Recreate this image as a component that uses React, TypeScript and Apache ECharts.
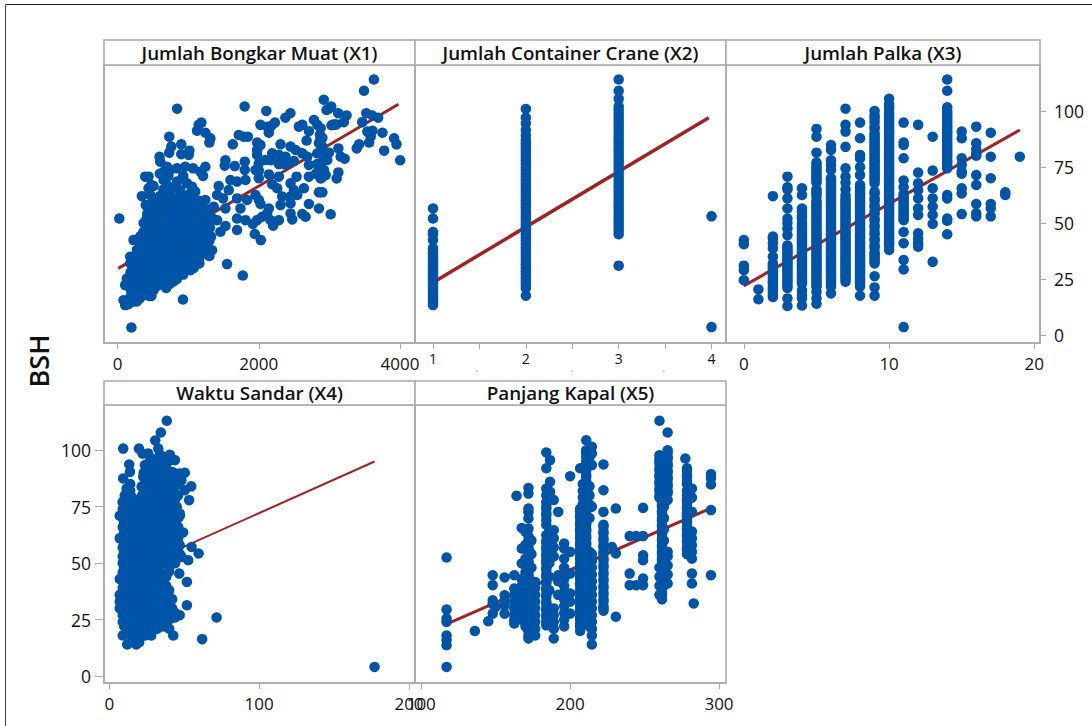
import React, { useEffect, useRef } from "react";
import * as echarts from "echarts";

const panelTitles = [
  "Jumlah Bongkar Muat (X1)",
  "Jumlah Container Crane (X2)",
  "Jumlah Palka (X3)",
  "Waktu Sandar (X4)",
  "Panjang Kapal (X5)",
];

const yTicks = [0, 25, 50, 75, 100];
const x1Ticks = [0, 2000, 4000];
const x2Ticks = [1, 2, 3, 4];
const x2MinorTicks = [1, 1.5, 2, 2.5, 3, 3.5, 4];
const x3Ticks = [0, 10, 20];
const x4Ticks = [0, 100, 200];
const x5Ticks = [100, 200, 300];

const fitX1 = [[12, 29.8], [3978, 103]];
const fitX2 = [[1, 23.5], [3.97, 97]];
const fitX3 = [[0, 22], [19, 91.5]];
const fitX4 = [[7, 44.6], [177, 95]];
const fitX5 = [[117, 23], [295, 74.5]];

const x1Sparse = [
  [197,3.4],[26,52],[844,101],[1800,102],[2107,100],[3630,114],[3490,109],[2920,105],[2993,101],[2960,100.4],[3025,102],
  [3125,99],[3243,98],[2448,99],[2377,97],[3522,99],[3606,98],[3690,97],[3465,95],[3062,94],[3100,94],[3030,93.6],[3204,95],
  [2024,93.8],[2119,93],[2176,93.3],[2228,94.8],[2143,90.3],[2568,93],[2616,93.8],[2710,91],[2781,96],[2829,93.8],[2876,92.3],
  [2866,89.3],[3065,93.8],[3538,90.8],[3609,91.2],[3585,88.5],[3751,90.3],[3562,85.9],[1717,89.3],[1788,88.5],[1845,88.5],
  [1149,93.8],[1187,94.8],[1126,91.2],[1244,90.3],[1315,87.8],[1301,85.9],[733,88.5],[762,84.1],[733,81.4],[903,85.1],[903,80.7],
  [1017,82.3],[1008,80.4],[596,79.6],[605,77.4],[1632,85.1],[1977,85.9],[2024,84.8],[1977,82.6],[2308,85.1],[2450,84.1],[2521,82.6],
  [2677,86.8],[2616,81.1],[2687,79.6],[2852,85.6],[2900,84.1],[2829,81.1],[2994,81.4],[3127,83.3],[3160,79.6],[3216,78.7],[3387,83.3],
  [3420,85.1],[3775,82.3],[3916,87.8],[3950,85.1],[4002,78],[1528,78],[1518,75.6],[1660,75.4],[1802,77.4],[1802,73.7],[1954,73.7],
  [2001,73.4],[1977,80.4],[2001,76.6],[2095,78.1],[2190,81.1],[2285,80.4],[2379,79.6],[2285,76.3],[2403,76.6],[2497,77.7],[2710,75.9],
  [2829,76.3],[2970,78.1],[2923,73.7],[2852,73.7],[2947,71.4],[2876,69.9],[3127,72.6],[3103,69.9],[2710,70.7],[2143,71.7],[2535,70.7],
  [2450,67.7],[2285,70.7],[2190,67.3],[2261,65.5],[2639,65.5],[2497,64.7],[2450,61.8],[2545,62.5],[2852,63.7],[2900,63.7],[2332,61.8],
  [2308,58],[2450,58.8],[2710,58.5],[2852,56.5],[3018,53.9],[2616,54],[2663,52.8],[2450,54.3],[2474,51.6],[2285,51.3],[2143,56.5],
  [2119,54.3],[2048,52.8],[1977,51.3],[1916,49.6],[2204,48.8],[2166,51.3],[1812,51.3],[1693,52],[1741,56.5],[1693,61],[1835,60.3],
  [1954,62.5],[2001,60.3],[2024,58.5],[1812,69.2],[1693,68.5],[1599,69.2],[1575,64.7],[1433,66.5],[1410,62.5],[1495,61],[1362,57.3],
  [1528,56.5],[1693,46.9],[1944,45.1],[2029,42.4],[1551,31.7],[1774,26.6],[927,15.9],[1457,46.1],[1528,48.7],[1410,51.3],[1339,37.9],
  [1301,35.3],[1159,32],[1159,34.2],[2829,72],[2900,70.5],[2380,76],[2170,78],[2000,70],[2900,88],[2870,87],[2880,81],[2920,78],[2880,75],[2810,72],
];

const x1Left = [
  [440,70.7],[393,70.7],[511,66.5],[440,65.5],[345,62],[464,62.5],[440,57.3],[511,57],[653,69.2],[700,75.1],[747,73.7],[842,74.4],
  [960,75.1],[1069,74.4],[1173,72.9],[1244,75.1],[1211,71],[653,72.9],[842,68.5],[984,67.7],[1055,66.2],[889,64.7],[1031,63.2],
  [1078,60.3],[1244,60.3],[700,61.8],[795,60.3],[653,58.8],[913,58.8],[984,57.3],[1126,55.8],[1291,54.3],[227,42.4],[180,35],
  [85,15.6],[109,13.4],[156,13.8],[132,25.3],[109,22.3],
  [560,60],[600,62],[650,65],[750,64],[800,66],[880,62],[950,62],[1000,60],[1100,64],[1150,60],[1190,57],[1300,56],[1350,52],
  [420,54],[400,58],[500,60],[480,67],[700,67],[720,71],[600,72],[930,71],
];

const x1Dense = [
  [180,32],[185,28],[175,24],[190,20],[182,17],
  [275,38],[280,34],[270,30],[278,26],[268,22],[282,18],[272,15],
  [370,50],[365,46],[375,42],[368,38],[372,34],[365,30],[378,26],[370,22],[362,18],
  [464,53],[458,49],[470,45],[462,41],[466,37],[455,33],[472,29],[460,25],[468,21],[450,17.5],[480,17.5],
  [558,53],[552,49],[565,45],[555,41],[560,37],[550,33],[568,29],[556,25],[562,22],
  [653,56],[648,52],[660,48],[650,44],[656,40],[645,36],[662,32],[652,28],[658,24],[690,21],
  [747,58],[742,54],[755,50],[745,46],[750,42],[740,38],[758,34],[748,30],[752,26],[745,23],
  [842,58],[836,54],[850,50],[840,46],[845,42],[835,38],[852,34],[842,30],[848,26],[840,25],
  [937,58],[930,54],[945,50],[935,46],[940,42],[930,38],[948,34],[938,30],[930,27],
  [1031,56],[1025,52],[1040,48],[1030,44],[1035,40],[1025,36],[1040,32],[1035,29],
  [1126,54],[1120,50],[1135,46],[1125,42],[1130,38],[1120,34],
  [1220,54],[1215,50],[1230,46],[1220,42],[1215,38],
  [1315,52],[1310,48],[1325,44],[1300,42],
];

const x1Fill = [
  [230, [34,30,26,22,18,15]],
  [320, [44,40,36,32,28,24,20,16.5]],
  [415, [52,48,44,40,36,32,28,24,20,18]],
  [510, [55,51,47,43,39,35,31,27,23,20]],
  [600, [57,54,50,46,42,38,34,30,26,23]],
  [700, [59,56,52,48,44,40,36,32,28,24,22]],
  [795, [60,56,52,48,44,40,36,32,28,24]],
  [890, [60,56,52,48,44,40,36,32,28]],
  [985, [59,55,51,47,43,39,35,31]],
  [1080, [57,53,49,45,41,37,33,30]],
  [1175, [56,52,48,44,40,36]],
  [1270, [53,49,45,41]],
];

const x2AtOne = [56.5,52,46,45,42.4,38.7,37,36,35,34,33,32,31,30,29,28,27,26,25,24,23,22,21,20,19,18,17,16,15,14,13.4];
const x2AtTwo = [100.9,97,94.5,91.5,89,87,85.5,84,82.5,81,79.5,78,76.5,75,73.5,72,70.5,69,67.5,66,64.5,63,61.5,60,58.5,57,55.5,54,52.5,51,49.5,48,46.5,45,43.5,42,40.5,39,37.5,36,34.5,33,31.5,30,28.5,27,25.5,24,22.5,21,17.6];
const x2AtThree = [114,109,105.4,102,100.5,99,97.5,96,94.5,93,91.5,90,88.5,87,85.5,84,82.5,81,79.5,78,76.5,75,73.5,72,70.5,69,67.5,66,64.5,63,61.5,60,58.5,57,55.5,54,52.5,51,49.5,48,46.5,45,31];
const x2AtFour = [53,3.6];

const x3Columns = [
  [0, [42.4,40.6,31,29,24.5]],
  [1, [20.4,16]],
  [2, [62,44,43,41,38.7,35,32,31,30,29,28,27,26,25,24,23,22,21,20,19,18,17]],
  [3, [70.7,66,65,61,56.5,52,50,47.6,44.6,40,39,38,37,36,35,34,33,32,31,30,29,28,27,26,25,24,23,22,21,16.4,13]],
  [4, [65.5,62.5,56.5,55,53,52,50,49,48,47,46,45,44,43,42,41,40,39,38,37,36,35,34,33,32,31,30,29,28,27,26,25,24,23,20,18,16.4,13.2]],
  [5, [92,88.5,81.4,77,76,75,74,73,72,71,70,69,68,65,64,63,62,60,59,58,57,56,55,54,53,52,51,50,49,48,47,46,45,44,43,42,41,40,39,38,37,36,35,34,33,32,31,30,29,28,27,26,25,24,23,22,21.6,19.3,16.4,14]],
  [6, [84.8,82.6,78,76,73.7,70,69,68,67,66,65,64,63,62,61,60,59,58,57,56,55,54,53,52,51,50,49,48,47,46,45,44,43,42,41,40,39,38,37,36,35,34,33,32,31,30,29,28,27,26,25,24,23,21.6,18.6]],
  [7, [101,93.8,90.8,84,74.4,70.7,68,65,62.5,61,60,59,58,57,56,55,54,53,52,51,50,49,48,47,46,45,44,43,42,41,40,39,38,37,36,35,34,33,32,31,30,29,28,27,26,25,23.8]],
  [8, [94.8,87.8,80.4,78.9,75,71.4,67,66,65,64,63,62,61,60,59,58,57,56,55,54,53,52,51,50,49,48,47,46,45,44,43,42,41,40,39,38,37,36,35,34,33,32,31,30,29,28,27,26,25,24,23,21.6,17.6]],
  [9, [100,98,96.7,95,93,92,90,89,88,87,86,85,84,83,82,81,80,79,78,77,76,75,74,73,72,71,70,69,67.7,64,63,61,60,58,57,55,54,52,51,49,48,46,45,43,42,40,39,37,36,35,34,33,32,26.3,21.3,17.6]],
  [10, [105.4,103,102,101,99,98,97,96,95,94,93,92,91,90,89,88,87,86,85,84,83,82,81,80,79,78,77,76,75,74,73,72,71,70,69,68,67,66,65,64,63,62,61,60,59,58,57,56,55,54,53,52,51,50,49,48,47,46,45,44,43,42,41,40,38]],
  [11, [94.8,85.9,84.8,78.9,69,66,63,62,61,60,59,58,57,56,55,54,53,52,51.3,46,41,33.5,29.3,3.6]],
  [12, [93.8,72.5,67.7,64.7,61,56.5,53.6,45.4,43,41,39.4]],
  [13, [88.5,73.4,65.5,61,57.3,53.6,49.6,32.7]],
  [14, [114,109,101.6,100,99,98,97,96,95,94,93,92,91,90,89,88,87,86,85,84,83,82,81,80,79,78,77,76,75,74.4,62.5,61,52,51,45]],
  [15, [90.8,87.8,78.9,76,73,72,65.5,63.2,54]],
  [16, [93,85.6,83,81,80,71.4,67,58.5,54.3,53]],
  [17, [90.3,79.6,70,58.5,56.5,53]],
  [18, [63.7,62.5]],
  [19, [79.6]],
];

const x4Sparse = [
  [177,4.1],[71.6,26],[62,16.4],[42.7,18],[51.8,31.4],[51.8,41.7],[46.7,45.4],[39.8,46.2],[59.6,54.3],[54.9,57.2],[52.7,51.3],
  [48.2,52.8],[42.7,55],[49.3,63.6],[53.3,77.9],[54.7,84],[50.4,82.3],[50.4,90],[47,89.7],[48.2,86.7],[43.8,95.6],[40.4,98],
  [41.6,90.4],[38.4,113],[34.4,107.8],[30.7,104.3],[32.7,100.7],[19.8,100.7],[9.3,100.7],[26,98.5],[22.2,98.5],[13.3,93.7],
  [13.8,90.4],[9.3,87.5],[22.7,88.2],[26,91],[23.8,93.4],[31.6,89.7],[38.2,94],[33.8,93.4],[11.6,83],[10.4,80],[14.9,79.4],
  [8.9,77],[21.6,77.9],[21.6,83.8],[43.8,77.9],[43.8,83.8],[27,83],[33,83],[38,83],[30,79],[27,77],[36,77],[40,74],[31,73],
  [26,71],[21,74],[15,74],[9,74],[47.1,71],[46,70],
];

const x4Columns = [
  [7, [71,61,43,36,33,30]],
  [9, [70,66,62,57,53,50,46,42,39,36,33,30,27,24,18]],
  [10, [78,74,68,64,59,55,51,48,44,40,37,34,31,28,25,22]],
  [12, [75,71,67,63,59,55,52,48,44,40,36,32,28,24,20,14]],
  [14, [85,82,78,73,69,65,61,57,53,50,46,42,38,34,30,26,22,18]],
  [16, [75,70,66,62,58,54,50,46,42,38,34,30,26,22,18]],
  [18, [73,68,64,60,56,52,48,44,40,36,32,28,24,20,16,14]],
  [19, [78,70,62]],
  [20, [72,68,64,60,56,52,48,44,40,36,32,28,24,20,15]],
  [22, [84,80,70,66,62,58,54,50,46,42,38,34,30,26,22,18]],
  [23, [90,76,72,64,59]],
  [24, [68,60,56,52,48,44,40,36,32,28,24,20,18]],
  [26, [90,85,81,75,70,66,62,58,54,50,46,42,38,34,30,26,22]],
  [27, [95,88,79,73,68,64,56]],
  [28, [72,69,60,56,52,48,44,40,36,32,28,24,18]],
  [30, [96,90,85,81,75,70,64,58,54,50,46,42,38,34,30,26,22]],
  [31, [93,87,82,77,68,62,56,52]],
  [32, [75,70,66,56,48,44,40,36,32,28,24,21]],
  [34, [98,92,85,81,78,72,68,62,53,46,42,38,34,30,26,23]],
  [35, [95,88,83,75,70,66,59,55,50]],
  [36, [80,72,65,62,56,52,44,38,34,30,26,22]],
  [38, [92,85,80,75,70,68,58,44,40,36,32,28,24]],
  [39, [95,88,82,77,72,66,62,57,53]],
  [40, [85,80,75,70,66,60,55,52,48,38,35,30,25,21]],
  [42, [88,78,72,68,62,56,52,34,30,26]],
  [43, [90,87,75,68,63,58,54]],
  [44, [80,73,70,66,60,54,50,28,26]],
  [45, [75,71,64,56,52]],
  [46, [85,80,66,61,57]],
  [47, [72,58,54,27]],
];

const x5Columns = [
  [117, [52.5,29.5,25.5,24,18,16,13.7,4.1]],
  [136, [20]],
  [145, [24.3]],
  [148, [44.7,40.3,33.6,32,27.7]],
  [150, [30.7]],
  [156, [43.7,35.8,33.6,31.4,27.7]],
  [162.5, [44.7,38.8,36,33,30,27,25,23.3]],
  [164, [79.8]],
  [167.5, [65.6,56.5,49.9,43,40,37,34,31,28,25]],
  [170, [64,58,52,46,40,34,28,22]],
  [172, [83.3,80.8,74.2,72.7,69.8,65.3,62,60,59,57,56,54,53,51,50,48,47,45,44,42,41,39,38,36,35,33,32,30,29,27,26,24,23,21,20,18,16.7]],
  [174, [60,54,48,42,36,30,24,19]],
  [176.5, [41.7,39,36,33,30,27,24,21,18]],
  [184, [99,92,83,80,77,75,74,72,71,69,67,62.4,60,59,57,56,54,53,51,50,48,47,45,44,42,41,39,38,36,35,33,32,30,29,27,26,24,22.5]],
  [186, [64,60,55,50,44,38]],
  [186.5, [95.6,86,81.6,78,60,57,52]],
  [189, [78,64.6,61,57,53,30,27,24,21,16.7]],
  [192, [72.7,44.7,42,36]],
  [196, [58.7,56.5,52,48,43,40,37,34,31,28,25,22]],
  [200, [88.5,55,45.4,36.6,33,27.7]],
  [206.7, [92,74,73,71,70,68,67,65,64,62,61,59,58,56,55,53,52,50,49,47,46,44,43,41,40,38,37,35,34,32,31,29,28,26,25,23,22,20]],
  [208.5, [92,85,82,79,76,72,66,60,54,48,42,36,30,24]],
  [210.8, [104.4,100,99,97,95,94,92,91,89,88,86,85,83,82,80,79,77,76,74,73,71,70,68,67,65,64,62,61,59,58,56,55,53,52,50,49,47,46,44,43,41,40,38,37,35,34,32,31,29,28,26,25,23]],
  [213, [97,94,84,80,76,70,55,50,45,40,35,30,25,22]],
  [214.6, [101.5,98.5,93.4,75,54,51,48,45,42,39,36,33,30,27,24,21,18,14]],
  [222.4, [93.7,82.3,72.7,67,66,64,63,61,60,58,57,55,54,52,51,49,48,46,45,43,42,40,39,37,36,34,33,31,30,29]],
  [228, [57.2]],
  [230.7, [74.2,54.3,26.3]],
  [240, [62,45.4,40.3]],
  [244.4, [62,40.3]],
  [249, [74.5,62,53.5,51.3,43.2,40.3]],
  [260, [113,97.8,96,95,94,92,91,89,88,86,85,83,82,80,79,48,44,40,36]],
  [261.7, [78,76,75,73,72,70,69,67,66,64,63,61,60,58,57,55,54,52,51,49,48,46,45,43,42,40,39,37,36,34]],
  [263, [95,90,85,80,75,70,65,60,55,50,45,40]],
  [265.5, [107.8,100,99,97,96,94,93,91,90,88,87,85,84,82,81,78,55,53,49,45,41]],
  [277.4, [96.3]],
  [278.5, [92,91,89,88,86,85,82,80,78,77,75,74,72,71,69,68,66,65,63,62,60,59,57,56,54]],
  [281.8, [83,79,72.7,64,61,58,55,52,45.4,41]],
  [283, [32.2]],
  [294.6, [89.4,87.5,84.8,73.5,44.7]],
];

const stubMarks = [476, 571, 663];

const expand = (cols: any[]) => cols.flatMap(([x, ys]: [number, number[]]) => ys.map((y) => [x, y]));

const x1Points = [...x1Sparse, ...x1Left, ...x1Dense, ...expand(x1Fill)];
const x2Points = expand([[1, x2AtOne], [2, x2AtTwo], [3, x2AtThree], [4, x2AtFour]]);
const x3Points = expand(x3Columns);
const x4Points = [...x4Sparse, ...expand(x4Columns)];
const x5Points = expand(x5Columns);

const FONT = '"Open Sans", "Noto Sans", sans-serif';
const GREY = "#a9a9a9";
const INK = "#111111";

const panels = [
  { left: 104, right: 415, top: 65, bottom: 343, strip: 40, xMin: -191, xMax: 4212, yMin: -3.5, yMax: 120.5, ticks: x1Ticks, minor: x1Ticks, pts: x1Points, fit: fitX1, lw: 3, yPos: null, fs: 17 },
  { left: 415, right: 726, top: 65, bottom: 343, strip: 40, xMin: 0.806, xMax: 4.156, yMin: -3.5, yMax: 120.5, ticks: x2Ticks, minor: x2MinorTicks, pts: x2Points, fit: fitX2, lw: 3.5, yPos: null, fs: 14 },
  { left: 726, right: 1040, top: 65, bottom: 343, strip: 40, xMin: -1.23, xMax: 20.39, yMin: -3.5, yMax: 120.5, ticks: x3Ticks, minor: x3Ticks, pts: x3Points, fit: fitX3, lw: 3, yPos: "right", fs: 17 },
  { left: 104, right: 415, top: 405, bottom: 683, strip: 381, xMin: -3.5, xMax: 204, yMin: -3, yMax: 120, ticks: x4Ticks, minor: x4Ticks, pts: x4Points, fit: fitX4, lw: 2, yPos: "left", fs: 17 },
  { left: 415, right: 726, top: 405, bottom: 683, strip: 381, xMin: 95.8, xMax: 304.7, yMin: -3, yMax: 120, ticks: x5Ticks, minor: x5Ticks, pts: x5Points, fit: fitX5, lw: 3, yPos: null, fs: 17 },
];

export default function App() {
  const ref = useRef<HTMLDivElement>(null);
  useEffect(() => {
    const chart = echarts.init(ref.current!, null, { renderer: "svg" });
    const axisBase = {
      type: "value",
      splitLine: { show: false },
      axisLine: { show: true, onZero: false, lineStyle: { color: GREY, width: 1.5 } },
    };
    const plain = (v: number) => String(v);
    chart.setOption({
      animation: false,
      backgroundColor: "#ffffff",
      grid: panels.map((p) => ({
        left: p.left,
        top: p.top,
        width: p.right - p.left,
        height: p.bottom - p.top,
        show: true,
        borderColor: GREY,
        borderWidth: 1.5,
        backgroundColor: "transparent",
      })),
      xAxis: panels.map((p, i) => ({
        ...axisBase,
        gridIndex: i,
        min: p.xMin,
        max: p.xMax,
        axisTick: { show: true, length: 6, lineStyle: { color: GREY, width: 1 }, customValues: p.minor },
        axisLabel: {
          show: true,
          color: INK,
          fontFamily: FONT,
          fontWeight: 500,
          fontSize: p.fs,
          margin: p.fs === 14 ? 8 : 12,
          hideOverlap: false,
          formatter: plain,
          customValues: p.ticks,
        },
      })),
      yAxis: panels.map((p, i) => ({
        ...axisBase,
        gridIndex: i,
        min: p.yMin,
        max: p.yMax,
        position: p.yPos ?? "left",
        axisTick: { show: !!p.yPos, length: p.yPos === "right" ? 6 : 9, lineStyle: { color: GREY, width: 1 }, customValues: yTicks },
        axisLabel: {
          show: !!p.yPos,
          color: INK,
          fontFamily: FONT,
          fontWeight: 500,
          fontSize: 17.5,
          margin: p.yPos === "right" ? 14 : 13,
          formatter: plain,
          customValues: yTicks,
        },
      })),
      series: panels.flatMap((p, i) => [
        {
          type: "line",
          xAxisIndex: i,
          yAxisIndex: i,
          data: p.fit,
          showSymbol: false,
          symbol: "none",
          z: 2,
          lineStyle: { color: "#9c2424", width: p.lw },
        },
        {
          type: "scatter",
          xAxisIndex: i,
          yAxisIndex: i,
          data: p.pts,
          symbol: "circle",
          symbolSize: 10.5,
          z: 3,
          itemStyle: { color: "#0054a6", opacity: 1 },
        },
      ]),
      graphic: [
        { type: "line", shape: { x1: 5.5, y1: 4.5, x2: 1092, y2: 4.5 }, style: { stroke: "#222222", lineWidth: 1 } },
        { type: "line", shape: { x1: 5.5, y1: 4.5, x2: 5.5, y2: 726 }, style: { stroke: "#444444", lineWidth: 1 } },
        ...stubMarks.map((x) => ({
          type: "rect",
          shape: { x, y: 370.5, width: 1.5, height: 1 },
          style: { fill: "#888888" },
        })),
        ...panels.map((p) => ({
          type: "rect",
          shape: { x: p.left, y: p.strip, width: p.right - p.left, height: p.top - p.strip },
          style: { fill: "#ffffff", stroke: GREY, lineWidth: 1.5 },
        })),
        ...panels.map((p, i) => ({
          type: "text",
          x: (p.left + p.right) / 2,
          y: (p.strip + p.top) / 2,
          style: {
            text: panelTitles[i],
            fill: INK,
            font: `600 18.8px ${FONT}`,
            textAlign: "center",
            textVerticalAlign: "middle",
          },
        })),
        {
          type: "text",
          x: 38,
          y: 361,
          rotation: Math.PI / 2,
          style: {
            text: "BSH",
            fill: INK,
            font: `600 27px ${FONT}`,
            textAlign: "center",
            textVerticalAlign: "middle",
          },
        },
      ],
    });
    return () => chart.dispose();
  }, []);
  return <div ref={ref} style={{ position: "fixed", left: 0, top: 0, width: 1092, height: 726 }} />;
}
